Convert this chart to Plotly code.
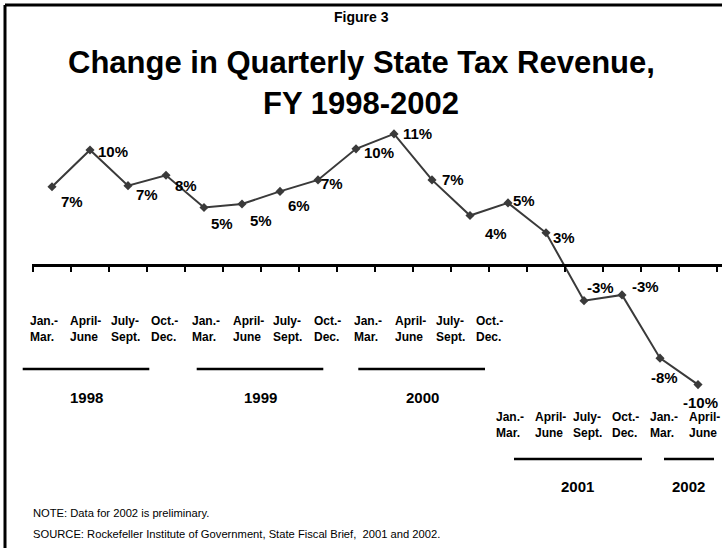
import glob
import plotly.graph_objects as go

# ---- data -------------------------------------------------------------
quarter_labels = ["Jan.-<br>Mar.", "April-<br>June", "July-<br>Sept.", "Oct.-<br>Dec."]
fiscal_years = ["1998", "1999", "2000", "2001", "2002"]
quarters_per_year = [4, 4, 4, 4, 2]
# percent change in state tax revenue, one value per quarter
change_pct = [6.8, 10.0, 6.9, 7.8, 5.0, 5.3, 6.4, 7.4, 10.1,
              11.4, 7.4, 4.3, 5.4, 2.8, -3.1, -2.6, -8.1, -10.4]

title_top = "Figure 3"
title_main = ["Change in Quarterly State Tax Revenue,", "FY 1998-2002"]
note_text = "NOTE: Data for 2002 is preliminary."
source_text = "SOURCE: Rockefeller Institute of Government, State Fiscal Brief,\u00a0 2001 and 2002."

# ---- page geometry ----------------------------------------------------
W, H = 722, 548
AXIS_LEFT = 33          # pixel where the first quarter begins
STEP = 38               # pixels per quarter
ZERO_Y = 265            # pixel row of the 0% line
PX_PER_PCT = 11.5
FRAME = 5               # inset of the frame's top and left edges

FONT = "Liberation Sans, Arial, Helvetica, sans-serif"
INK = "#000000"
LINE_INK = "#3a3a3a"


def px(xp):
    return xp / W


def py(yp):
    return 1 - yp / H


narrow = bool(glob.glob("/usr/share/fonts/**/LiberationSansNarrow-Bold*", recursive=True))
title_font = ("Liberation Sans Narrow, " + FONT) if narrow else FONT
title_size = 38 if narrow else 31

n = len(change_pct)
xs = list(range(n))

fig = go.Figure()
fig.add_trace(go.Scatter(
    x=xs, y=change_pct, mode="lines+markers",
    line=dict(color=LINE_INK, width=2),
    marker=dict(symbol="diamond", size=7, color=LINE_INK),
    cliponaxis=False, hoverinfo="skip", showlegend=False,
))

ann = []

# value labels next to each point (offsets in pixels: right, down)
label_offsets = [(20, 15), (23, 1), (19, 9), (20, 10), (18, 15.5), (19, 16.5),
                 (19, 14), (14, 4), (23, 3.5), (23, -0.5), (21, 0), (26, 18),
                 (16, -2), (18, 5), (16, -13.5), (23, -8), (4.5, 19.5), (2.5, 18)]
for i, v in enumerate(change_pct):
    dx, dy = label_offsets[i]
    ann.append(dict(x=i, y=v, xref="x", yref="y", text=f"{round(v):d}%",
                    showarrow=False, xanchor="center", yanchor="middle",
                    xshift=dx, yshift=-dy,
                    font=dict(family=FONT, size=15, color=INK)))

# quarter labels: first three years in one row, the last two lower down
q = 0
for yi, cnt in enumerate(quarters_per_year):
    for k in range(cnt):
        if q < 12:
            left, yc = 27.5 + 40.6 * q, 329
        else:
            left, yc = 494 + 38.5 * (q - 12), 425
        ann.append(dict(x=px(left), y=py(yc), xref="paper", yref="paper",
                        text=quarter_labels[k], showarrow=False, align="left",
                        xanchor="left", yanchor="middle",
                        font=dict(family=FONT, size=12, color=INK)))
        q += 1

# year brackets
year_layout = [(22.7, 149.3, 369, 86, 397), (196.7, 323.3, 369, 260, 397),
               (358.3, 485, 369, 422, 397), (514, 642, 459, 577.5, 486),
               (664, 714, 459, 688, 486)]
shapes = []
for yr, (x0, x1, ly, tx, ty) in zip(fiscal_years, year_layout):
    shapes.append(dict(type="line", xref="paper", yref="paper",
                       x0=px(x0), x1=px(x1), y0=py(ly), y1=py(ly),
                       line=dict(color=INK, width=2.5)))
    ann.append(dict(x=px(tx), y=py(ty), xref="paper", yref="paper", text=yr,
                    showarrow=False, xanchor="center", yanchor="middle",
                    font=dict(family=FONT, size=15, color=INK)))

# frame (top and left edges)
shapes.append(dict(type="line", xref="paper", yref="paper", x0=px(FRAME), x1=1.0,
                   y0=py(FRAME), y1=py(FRAME), line=dict(color=INK, width=3)))
shapes.append(dict(type="line", xref="paper", yref="paper", x0=px(FRAME), x1=px(FRAME),
                   y0=py(FRAME), y1=0, line=dict(color=INK, width=3)))

# titles and notes
ann.append(dict(x=px(361), y=py(17.5), xref="paper", yref="paper", text=title_top,
                showarrow=False, xanchor="center", yanchor="middle",
                font=dict(family=FONT, size=14, color=INK)))
for line_txt, yc in zip(title_main, [62, 103]):
    ann.append(dict(x=px(361), y=py(yc), xref="paper", yref="paper",
                    text=f"<b>{line_txt}</b>", showarrow=False,
                    xanchor="center", yanchor="middle",
                    font=dict(family=title_font, size=title_size, color=INK)))
for txt, yc in [(note_text, 513), (source_text, 534)]:
    ann.append(dict(x=px(31), y=py(yc), xref="paper", yref="paper", text=txt,
                    showarrow=False, xanchor="left", yanchor="middle",
                    font=dict(family=FONT, size=11.2, color=INK)))

# bold everything except the notes
for a in ann:
    if not a["text"].startswith(("NOTE", "SOURCE", "<b>")):
        a["text"] = f"<b>{a['text']}</b>"

x_lo = -0.5 - 1.5 / STEP
fig.update_layout(
    width=W, height=H, autosize=False,
    margin=dict(l=0, r=0, t=0, b=0),
    paper_bgcolor="white", plot_bgcolor="white",
    xaxis=dict(domain=[px(AXIS_LEFT - 1.5), 1],
               range=[x_lo, (W - AXIS_LEFT) / STEP - 0.5],
               anchor="free", position=py(ZERO_Y),
               showline=True, linecolor=INK, linewidth=2.5,
               ticks="outside", tickvals=[k - 0.5 for k in range(n + 1)],
               ticklen=5, tickwidth=2, tickcolor=INK,
               showticklabels=False, showgrid=False, zeroline=False),
    yaxis=dict(domain=[0, 1],
               range=[(ZERO_Y - H) / PX_PER_PCT, ZERO_Y / PX_PER_PCT],
               visible=False),
    annotations=ann, shapes=shapes,
)

fig.write_html("out.html")
